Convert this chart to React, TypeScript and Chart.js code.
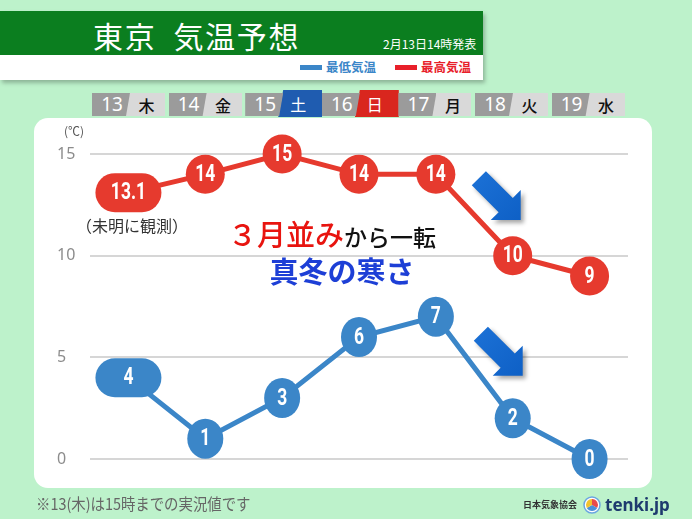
import React, { useEffect, useRef } from 'react';
import { Chart, registerables } from 'chart.js';

Chart.register(...registerables);

// ---- data ----
const days = ['13', '14', '15', '16', '17', '18', '19'];
const weekdays = ['木', '金', '土', '日', '月', '火', '水'];
const highTemps = [13.1, 14, 15, 14, 14, 10, 9];
const lowTemps = [4, 1, 3, 6, 7, 2, 0];
const highLabels = ['13.1', '14', '15', '14', '14', '10', '9'];
const lowLabels = ['4', '1', '3', '6', '7', '2', '0'];
const yTicks = [0, 5, 10, 15];

const RED = '#e63a2e';
const BLUE = '#3b86c8';
const ARROW = '#0e60c6';
const JP = '"Noto Sans CJK JP", "Noto Sans", sans-serif';

function drawArrow(ctx: CanvasRenderingContext2D, tx: number, ty: number) {
  const L = 30;
  const d = Math.SQRT1_2;
  const hx = tx - L / 2;
  const hy = ty - L / 2;
  const back = 38;
  const hw = 10;
  const sx = hx - back * d;
  const sy = hy - back * d;
  ctx.save();
  ctx.shadowColor = 'rgba(0,0,0,0.35)';
  ctx.shadowBlur = 4;
  ctx.shadowOffsetX = 3;
  ctx.shadowOffsetY = 3;
  const g = ctx.createLinearGradient(sx, sy, tx, ty);
  g.addColorStop(0, '#1a6fd4');
  g.addColorStop(1, ARROW);
  ctx.fillStyle = g;
  ctx.beginPath();
  ctx.moveTo(sx + hw * d, sy - hw * d);
  ctx.lineTo(hx + hw * d, hy - hw * d);
  ctx.lineTo(tx, ty - L);
  ctx.lineTo(tx, ty);
  ctx.lineTo(tx - L, ty);
  ctx.lineTo(hx - hw * d, hy + hw * d);
  ctx.lineTo(sx - hw * d, sy + hw * d);
  ctx.closePath();
  ctx.fill();
  ctx.restore();
}

const markerPlugin = {
  id: 'markers',
  afterDatasetsDraw(chart: any) {
    const ctx = chart.ctx as CanvasRenderingContext2D;
    chart.data.datasets.forEach((ds: any, di: number) => {
      const meta = chart.getDatasetMeta(di);
      meta.data.forEach((pt: any, j: number) => {
        const x = pt.x;
        const y = pt.y;
        ctx.save();
        ctx.fillStyle = ds.borderColor;
        ctx.beginPath();
        if (j === 0) {
          const w = 66;
          const h = 39;
          ctx.roundRect(x - w / 2, y - h / 2, w, h, h / 2);
        } else {
          ctx.ellipse(x, y, ds.markRx, ds.markRy, 0, 0, Math.PI * 2);
        }
        ctx.fill();
        ctx.fillStyle = '#ffffff';
        ctx.font = 'bold 23px Roboto';
        ctx.textAlign = 'center';
        ctx.textBaseline = 'middle';
        ctx.translate(x, y + 1);
        ctx.scale(0.76, 1);
        ctx.fillText(ds.markTexts[j], 0, 0);
        ctx.restore();
      });
    });
  },
};

const arrowPlugin = {
  id: 'arrows',
  afterDatasetsDraw(chart: any) {
    const ctx = chart.ctx as CanvasRenderingContext2D;
    const xs = chart.scales.x;
    const ys = chart.scales.y;
    drawArrow(ctx, xs.getPixelForValue(5) + 8, ys.getPixelForValue(11.75));
    drawArrow(ctx, xs.getPixelForValue(5) + 10, ys.getPixelForValue(4.1));
  },
};

function TempChart() {
  const ref = useRef<HTMLCanvasElement | null>(null);
  useEffect(() => {
    if (!ref.current) return;
    const chart = new Chart(ref.current, {
      type: 'line',
      data: {
        labels: days,
        datasets: [
          {
            label: '最高気温',
            data: highTemps,
            borderColor: RED,
            backgroundColor: RED,
            borderWidth: 5,
            pointRadius: 0,
            tension: 0,
            markTexts: highLabels,
            markRx: 19.5,
            markRy: 19.5,
          } as any,
          {
            label: '最低気温',
            data: lowTemps,
            borderColor: BLUE,
            backgroundColor: BLUE,
            borderWidth: 5,
            pointRadius: 0,
            tension: 0,
            markTexts: lowLabels,
            markRx: 18,
            markRy: 20,
          } as any,
        ],
      },
      options: {
        responsive: false,
        devicePixelRatio: 1,
        animation: false,
        events: [],
        layout: { padding: { left: 57, right: 64, top: 123.5, bottom: 29.5 } },
        plugins: { legend: { display: false }, tooltip: { enabled: false } },
        scales: {
          x: { type: 'category', offset: true, display: false },
          y: {
            min: -1.5,
            max: 16.5,
            afterBuildTicks: (axis: any) => {
              axis.ticks = yTicks.map((v) => ({ value: v }));
            },
            afterFit: (axis: any) => {
              axis.width = 33;
            },
            border: { display: false },
            grid: { color: '#d6d6d6', lineWidth: 2, drawTicks: false },
            ticks: {
              color: '#8c8c8c',
              crossAlign: 'far',
              padding: 0,
              font: { family: '"Noto Sans", sans-serif', size: 16 },
            },
          },
        },
      },
      plugins: [markerPlugin, arrowPlugin],
    } as any);
    return () => chart.destroy();
  }, []);
  return (
    <canvas
      ref={ref}
      width={692}
      height={519}
      style={{ position: 'absolute', left: 0, top: 0, width: 692, height: 519 }}
    />
  );
}

const abs = (s: any) => ({ position: 'absolute', ...s });
const centerBox = { display: 'flex', alignItems: 'center', justifyContent: 'center', lineHeight: 1 };

export default function App() {
  return (
    <div
      style={{
        position: 'fixed',
        left: 0,
        top: 0,
        width: 692,
        height: 519,
        background: '#bdf2cb',
        overflow: 'hidden',
        fontFamily: JP,
      }}
    >
      {/* header */}
      <div style={abs({ left: 0, top: 11, width: 483, height: 69, boxShadow: '2px 3px 4px rgba(0,0,0,0.25)' })}>
        <div style={abs({ left: 0, top: 0, width: 483, height: 44, background: '#0b7e1f' })} />
        <div style={abs({ left: 0, top: 44, width: 483, height: 25, background: '#ffffff' })} />
      </div>
      <div style={abs({ left: 93, top: 20, color: '#fff', fontSize: 30, lineHeight: 1, letterSpacing: 1.7, whiteSpace: 'nowrap', fontWeight: 400 })}>
        東京<span style={{ marginLeft: 17 }}>気温予想</span>
      </div>
      <div style={abs({ left: 383, top: 38, color: '#fff', fontSize: 12, lineHeight: 1, whiteSpace: 'nowrap' })}>
        2月13日14時発表
      </div>
      <div style={abs({ left: 300, top: 65, width: 22, height: 5, background: BLUE })} />
      <div style={abs({ left: 326, top: 61, color: BLUE, fontSize: 12.5, fontWeight: 700, lineHeight: 1, whiteSpace: 'nowrap' })}>最低気温</div>
      <div style={abs({ left: 395, top: 65, width: 22, height: 5, background: '#e8202a' })} />
      <div style={abs({ left: 421, top: 61, color: '#e8202a', fontSize: 12.5, fontWeight: 700, lineHeight: 1, whiteSpace: 'nowrap' })}>最高気温</div>

      {/* day strip */}
      {days.map((d, i) => {
        const start = 92 + i * 76.6;
        const w = weekdays[i];
        const special = w === '土' ? '#1f5cb0' : w === '日' ? '#d9261e' : null;
        return (
          <React.Fragment key={d}>
            {special ? (
              <div
                style={abs({
                  left: start + 33,
                  top: 90,
                  width: 44,
                  height: 27,
                  background: special,
                  clipPath: 'polygon(5px 0, 100% 0, 100% 100%, 0 100%)',
                  color: '#fff',
                  fontSize: 16,
                  paddingRight: 4,
                  boxSizing: 'border-box',
                  ...centerBox,
                })}
              >
                {w}
              </div>
            ) : (
              <div
                style={abs({
                  left: start + 33,
                  top: 93,
                  width: 40,
                  height: 23,
                  background: '#d9d9d9',
                  color: '#111',
                  fontSize: 16,
                  paddingLeft: 3,
                  boxSizing: 'border-box',
                  fontWeight: 500,
                  ...centerBox,
                })}
              >
                {w}
              </div>
            )}
            <div
              style={abs({
                left: start,
                top: 93,
                width: 38,
                height: 23,
                background: '#9b9b9b',
                clipPath: 'polygon(0 0, 100% 0, calc(100% - 4px) 100%, 0 100%)',
                color: '#fff',
                fontSize: 19,
                fontFamily: '"Noto Sans", sans-serif',
                paddingLeft: 2,
                boxSizing: 'border-box',
                ...centerBox,
              })}
            >
              {d}
            </div>
          </React.Fragment>
        );
      })}

      {/* panel */}
      <div style={abs({ left: 34, top: 118, width: 618, height: 370, background: '#fff', borderRadius: 14 })} />

      <TempChart />

      {/* annotations */}
      <div style={abs({ left: 64, top: 125, fontSize: 12, color: '#555', lineHeight: 1, whiteSpace: 'nowrap' })}>(℃)</div>
      <div style={abs({ left: 76, top: 217, fontSize: 16, color: '#333', lineHeight: 1, whiteSpace: 'nowrap' })}>（未明に観測）</div>
      <div style={abs({ left: 228, top: 219, lineHeight: '29px', whiteSpace: 'nowrap' })}>
        <span style={{ fontSize: 29, color: '#e8140f', fontWeight: 500 }}>３月並み</span>
        <span style={{ fontSize: 23, color: '#111', fontWeight: 500 }}>から一転</span>
      </div>
      <div style={abs({ left: 242, width: 200, top: 256, textAlign: 'center', lineHeight: '29px', fontSize: 29, color: '#1d3fd6', fontWeight: 700, whiteSpace: 'nowrap' })}>
        真冬の寒さ
      </div>

      {/* footer */}
      <div style={abs({ left: 36, top: 495, fontSize: 16, color: '#666', lineHeight: 1, whiteSpace: 'nowrap', transform: 'scaleX(0.9)', transformOrigin: 'left center' })}>
        ※13(木)は15時までの実況値です
      </div>
      <div style={abs({ left: 523, top: 500, fontSize: 9, color: '#333', lineHeight: 1, fontWeight: 700, whiteSpace: 'nowrap' })}>日本気象協会</div>
      <svg style={abs({ left: 583, top: 496 })} width={18} height={18} viewBox="0 0 18 18">
        <circle cx={9} cy={9} r={8} fill="#ffffff" stroke="#6aa6e0" strokeWidth={1.5} />
        <path d="M9 9 L9 3 A6 6 0 0 1 14.2 12 Z" fill="#e84b4b" />
        <path d="M9 9 L14.2 12 A6 6 0 0 1 3.8 12 Z" fill="#4a90d9" />
        <path d="M9 9 L3.8 12 A6 6 0 0 1 9 3 Z" fill="#f2c230" />
      </svg>
      <div style={abs({ left: 605, top: 496, fontSize: 17, color: '#1e3a6e', lineHeight: 1, fontWeight: 700, fontFamily: '"Noto Sans", sans-serif', whiteSpace: 'nowrap' })}>tenki.jp</div>
    </div>
  );
}
